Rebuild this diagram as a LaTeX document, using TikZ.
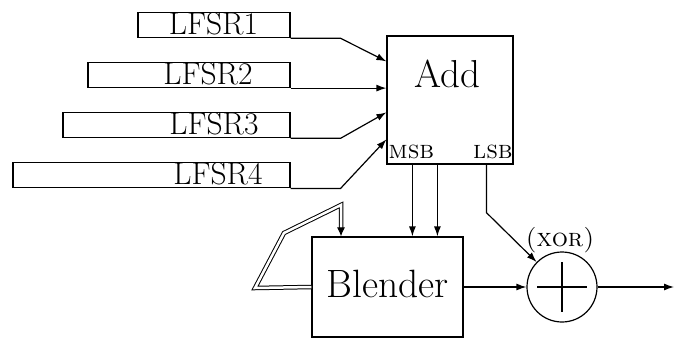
\documentclass[tikz,border=0pt]{standalone}
\usepackage{fontspec}
\usetikzlibrary{arrows.meta,calc}
\begin{document}
\begin{tikzpicture}[x=1pt,y=-1pt, line width=1.2pt,
  box/.style={draw, rectangle, inner sep=0pt},
  lfsrbox/.style={box, minimum height=25pt},
  lfsrtxt/.style={inner sep=0pt, font=\fontsize{31.5}{31.5}\selectfont},
  bigtxt/.style={inner sep=0pt, font=\fontsize{39}{39}\selectfont},
  smalltxt/.style={inner sep=0pt, anchor=base, font=\fontsize{25.5}{25.5}\selectfont\scshape},
  arr/.style={-{Latex[length=10pt,width=7pt]}},
  dbl/.style={double, double distance=2.5pt, line width=1pt, -{Latex[length=9pt,width=8pt]}},
  ]
\useasboundingbox (0,0) rectangle (675,340);
% LFSR boxes
\node[lfsrbox, minimum width=152pt] (l1) at (214,25.2) {};
\node[lfsrbox, minimum width=202pt] (l2) at (189,75) {};
\node[lfsrbox, minimum width=227pt] (l3) at (176.5,125.2) {};
\node[lfsrbox, minimum width=277pt] (l4) at (151.5,175.3) {};
\node[lfsrtxt] (t1) at (213.5,23.8) {LFSR1};
\node[lfsrtxt] (t2) at (208,73.4) {LFSR2};
\node[lfsrtxt] (t3) at (214,123.6) {LFSR3};
\node[lfsrtxt] (t4) at (218,173.4) {LFSR4};
% Add
\node[box, minimum width=126pt, minimum height=128pt] (add) at (450,100) {};
\node[bigtxt] (addtxt) at (447,74) {Add};
\node[smalltxt] (msb) at (411.5,158) {msb};
\node[smalltxt] (lsb) at (493,158) {lsb};
% Blender
\node[box, minimum width=151pt, minimum height=100pt, text depth=6pt,
      font=\fontsize{39.5}{39.5}\selectfont] (blender) at (387.5,287) {Blender};
% XOR
\node[draw, circle, minimum size=70pt, inner sep=0pt] (xor) at (562,287) {};
\draw ([xshift=-25pt]xor.center) -- ([xshift=25pt]xor.center);
\draw ([yshift=25pt]xor.center) -- ([yshift=-25pt]xor.center);
\node[smalltxt] (xorlbl) at (560,246) {(xor)};
% connectors LFSR -> Add
\coordinate (a1) at ($(add.north west)+(0,26)$);
\coordinate (a3) at ($(add.north west)+(0,77)$);
\coordinate (a4) at ($(add.north west)+(0,104)$);
\draw[arr] (l1.south east) -- ++(50,0) -- (a1);
\draw[arr] (l2.south east) -- (l2.south east -| add.west);
\draw[arr] (l3.south east) -- ++(50,0) -- (a3);
\draw[arr] (l4.south east) -- ++(50,0) -- (a4);
% MSB -> Blender
\coordinate (m1) at ([xshift=26pt]add.south west);
\coordinate (m2) at ([xshift=51pt]add.south west);
\draw[arr] (m1) -- (m1 |- blender.north);
\draw[arr] (m2) -- (m2 |- blender.north);
% LSB -> XOR
\coordinate (ls) at ([xshift=100pt]add.south west);
\draw[arr] (ls) -- ++(0,48) -- (xor);
% Blender -> XOR -> out
\draw[arr] (blender.east) -- (xor.west);
\coordinate (out) at (674,287);
\draw[arr] (xor.east) -- (out);
% feedback
\coordinate (f1) at (255,288);
\coordinate (f2) at (284,233);
\coordinate (f3) at (341,205);
\draw[dbl] (blender.west) -- (f1) -- (f2) -- (f3) -- (f3 |- blender.north);
\end{tikzpicture}
\end{document}
